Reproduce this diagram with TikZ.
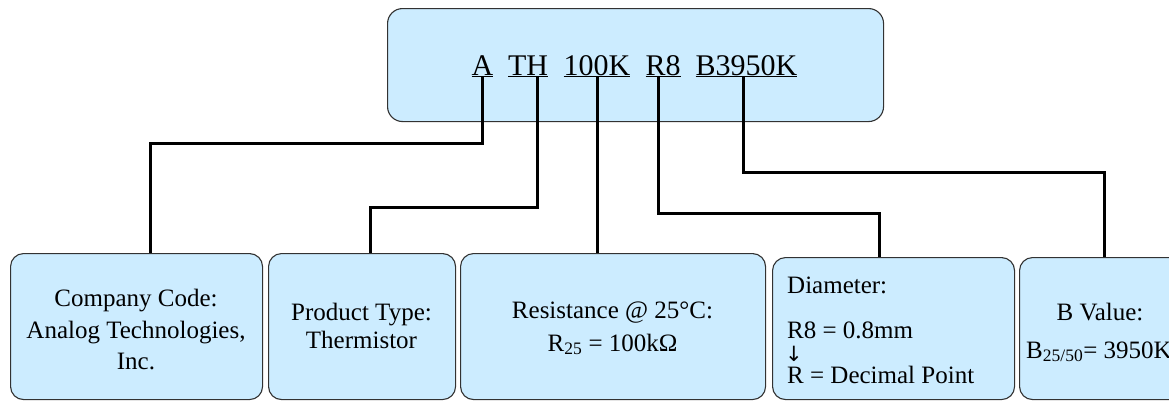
\documentclass[tikz,border=0pt]{standalone}
\usepackage{fontspec}
\setmainfont{Liberation Serif}
\newfontfamily\symfont{DejaVu Sans}
\definecolor{boxblue}{RGB}{204,236,255}
\definecolor{boxline}{RGB}{50,50,50}
\begin{document}
\begin{tikzpicture}[x=1pt,y=-1pt,
  box/.style={draw=boxline, line width=1.1pt, fill=boxblue, rounded corners=13pt, inner sep=0pt, anchor=north west},
  conn/.style={line width=3pt, black},
  lbl/.style={inner sep=0pt, anchor=base, font=\fontsize{25}{30}\selectfont},
  lbll/.style={inner sep=0pt, anchor=base west, font=\fontsize{25}{30}\selectfont},
  code/.style={inner sep=0pt, anchor=base, font=\fontsize{30}{36}\selectfont}]
\useasboundingbox (0,0) rectangle (1169,400);
\clip (0,0) rectangle (1169,400);
% top box
\node[box, rounded corners=15pt, minimum width=496pt, minimum height=113pt] (top) at (387,8) {};
\node[code] (tA) at (482.5,75) {\underline{A}};
\node[code] (tTH) at (528,75) {\underline{TH}};
\node[code] (t100) at (597,75) {\underline{100K}};
\node[code] (tR8) at (663,75) {\underline{R8}};
\node[code] (tB) at (746.5,75) {\underline{B3950K}};
% bottom boxes
\node[box, minimum width=252pt, minimum height=146pt] (b1) at (10,253) {};
\node[box, minimum width=187pt, minimum height=146pt] (b2) at (268,253) {};
\node[box, minimum width=305pt, minimum height=146pt] (b3) at (460,253) {};
\node[box, minimum width=242pt, minimum height=142pt] (b4) at (772,257) {};
\node[box, minimum width=170pt, minimum height=142pt] (b5) at (1019,257) {};
% connectors
\coordinate (j1) at (150,143);
\draw[conn] (tA.south) |- (j1) -- (j1 |- b1.north);
\coordinate (j2) at (370,207);
\draw[conn] ([xshift=9pt]tTH.south) |- (j2) -- (j2 |- b2.north);
\draw[conn] (t100.south) -- (t100.south |- b3.north);
\coordinate (j4) at (879,213);
\draw[conn] ([xshift=-5pt]tR8.south) |- (j4) -- (j4 |- b4.north);
\coordinate (j5) at (1104,172);
\draw[conn] ([xshift=-3.5pt]tB.south) |- (j5) -- (j5 |- b5.north);
% texts
\node[lbl] (b1a) at (136,306) {Company Code:};
\node[lbl] (b1b) at (136,338) {Analog Technologies,};
\node[lbl] (b1c) at (136,369) {Inc.};
\node[lbl] (b2a) at (361.5,320) {Product Type:};
\node[lbl] (b2b) at (361.5,348) {Thermistor};
\node[lbl] (b3a) at (612.5,318) {Resistance @ 25°C:};
\node[lbl] (b3b) at (612.5,351) {R\textsubscript{25} = 100kΩ};
\node[lbll] (b4a) at (787,293) {Diameter:};
\node[lbll] (b4b) at (787,338) {R8 = 0.8mm};
\node[inner sep=0pt, anchor=base west, font=\symfont\fontsize{21}{24}\selectfont] (b4c) at (785,361) {↓};
\node[lbll] (b4d) at (787,383) {R = Decimal Point};
\node[lbl] (b5a) at (1100,320) {B Value:};
\node[lbll] (b5b) at (1026,358) {B\textsubscript{25/50}= 3950K};
\end{tikzpicture}
\end{document}
